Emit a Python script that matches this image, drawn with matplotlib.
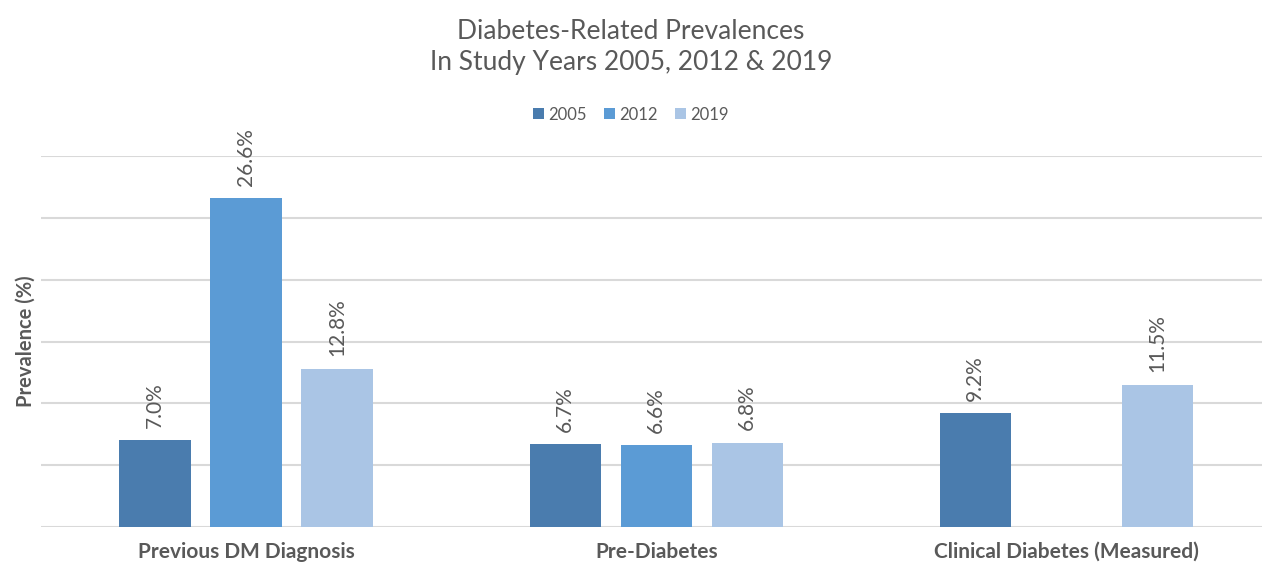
import numpy as np
import matplotlib.pyplot as plt

# prevalence data by study year
categories = ['Previous DM Diagnosis', 'Pre-Diabetes', 'Clinical Diabetes (Measured)']
years = ['2005', '2012', '2019']
prev_2005 = [7.0, 6.7, 9.2]
prev_2012 = [26.6, 6.6, None]
prev_2019 = [12.8, 6.8, 11.5]
colors = ['#4a7cae', '#5b9bd5', '#aac5e5']

plt.rcParams['font.family'] = ['Lato', 'DejaVu Sans']
text_col = '#595959'

fig = plt.figure(figsize=(12.62, 5.68), dpi=100)
ax = fig.add_axes([0.0325, 0.0722, 0.975, 0.653])

x = np.arange(len(categories))
width = 0.174
offsets = [-0.222, 0.0, 0.222]
series = [prev_2005, prev_2012, prev_2019]

for vals, off, col, yr in zip(series, offsets, colors, years):
    xs = [xi + off for xi, v in zip(x, vals) if v is not None]
    vs = [v for v in vals if v is not None]
    bars = ax.bar(xs, vs, width, color=col, label=yr, zorder=3)
    for b, v in zip(bars, vs):
        ax.annotate(f'{v:.1f}%', (b.get_x() + b.get_width() / 2, v),
                    xytext=(0, 9), textcoords='offset points',
                    rotation=90, ha='center', va='bottom',
                    fontsize=15, color=text_col)

ax.set_xlim(-0.5, 2.5)
ax.set_ylim(0, 30)
ax.set_yticks(np.arange(0, 31, 5))
ax.yaxis.grid(True, color='#d9d9d9', linewidth=1.5, zorder=0)
ax.tick_params(axis='y', left=False, labelleft=False)
ax.tick_params(axis='x', bottom=False, pad=7)
ax.set_xticks(x)
ax.set_xticklabels(categories, fontsize=15, fontweight='bold', color=text_col)
for s in ax.spines.values():
    s.set_visible(False)

ax.set_ylabel('Prevalence (%)', fontsize=14.5, fontweight='bold', color=text_col, labelpad=4)

fig.text(0.5, 0.918, 'Diabetes-Related Prevalences\nIn Study Years 2005, 2012 & 2019',
         ha='center', va='center', fontsize=19, color=text_col, linespacing=1.3)

fig.legend(loc='center', bbox_to_anchor=(0.5, 0.798), ncol=3, frameon=False,
           fontsize=12, labelcolor=text_col, handlelength=0.65, handleheight=0.65,
           handletextpad=0.3, columnspacing=1.0)

fig.savefig('out.png', dpi=100)
